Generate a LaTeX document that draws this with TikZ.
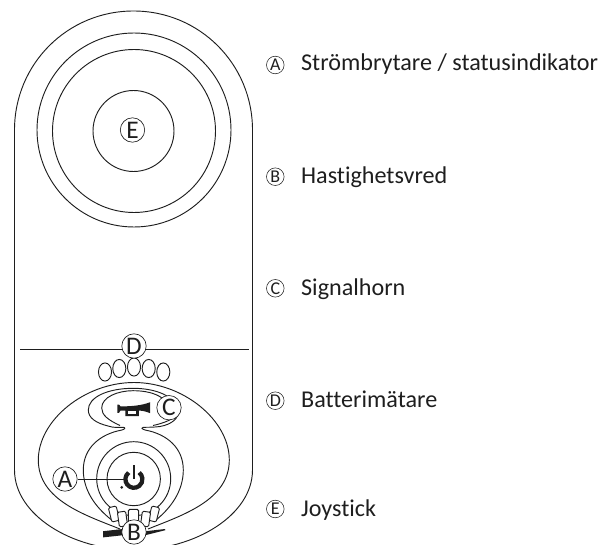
\documentclass[tikz,border=0pt]{standalone}
\usepackage{fontspec}
\setmainfont[Ligatures=NoCommon]{Carlito}
\usetikzlibrary{shapes.geometric}
\usetikzlibrary{positioning}
\definecolor{inkline}{HTML}{1E1E1E}
\begin{document}
\begin{tikzpicture}[x=0.75pt, y=-0.75pt, line width=0.7pt, draw=inkline, text=inkline,
	bigmark/.style={draw,shape=circle,fill=white,inner sep=0pt,minimum size=18.3pt,line width=0.5pt,font=\fontsize{19}{19}\selectfont},
	smallmark/.style={draw,shape=circle,inner sep=0pt,minimum size=13.2pt,line width=0.4pt,font=\fontsize{13.5}{13.5}\selectfont},
	entry/.style={anchor=base west,inner sep=0pt,font=\fontsize{18.1}{20}\selectfont},
	bulb/.style={draw,shape=ellipse,inner sep=0pt,minimum width=9.8pt,minimum height=13.6pt,fill=white},
	tooth/.style={draw,shape=rectangle,rounded corners=1pt,fill=white,inner sep=0pt}]
	\useasboundingbox (0,0) rectangle (600,545);
	% casing
	\draw (14.5,130) .. controls (14.5,64) and (67.5,11) .. (133.5,11)
		.. controls (199.5,11) and (252.5,64) .. (252.5,130) -- (252.5,470)
		.. controls (252.5,515) and (195,550) .. (133.5,550)
		.. controls (72,550) and (14.5,515) .. (14.5,470) -- cycle;
	% joystick
	\draw (134,130) circle (97);
	\draw (134,131) circle (81.5);
	\draw (133.5,131) circle (40.5);
	\node[bigmark] (E) at (132.5,130) {E};
	% battery gauge
	\draw (20,349.5) -- (249,349.5);
	\node[bulb] (0) at (105,372) {};
	\node[bulb] (1) at (119.3,368.5) {};
	\node[bulb] (2) at (134,367) {};
	\node[bulb] (3) at (148.7,368.5) {};
	\node[bulb] (4) at (163.3,372) {};
	\node[bigmark] (D) at (134,346) {D};
	% control panel
	\draw (134,382.5) .. controls (85,382.5) and (38.3,420) .. (38.3,460)
		.. controls (38.3,500) and (85,515) .. (120,529);
	\draw (134,382.5) .. controls (183,382.5) and (229.3,420) .. (229.3,460)
		.. controls (229.3,500) and (183,515) .. (148,529);
	\draw (111.7,520) .. controls (95,507) and (83.3,490) .. (83.3,470)
		.. controls (83.3,448) and (100,434) .. (122,430)
		.. controls (125.5,429) and (125.5,427.3) .. (123,427.3)
		.. controls (118,427.3) and (114,428) .. (108,426)
		.. controls (96,423) and (88.3,418) .. (88.3,410)
		.. controls (88.3,397) and (108,388.3) .. (133.3,388.3)
		.. controls (155,388.3) and (178,396) .. (178,413)
		.. controls (178,420) and (168,426.5) .. (155,427)
		.. controls (150,427.3) and (145,427.3) .. (143.3,427.3)
		.. controls (141,427.3) and (141.5,429) .. (145,430)
		.. controls (167,434) and (183.3,448) .. (183.3,470)
		.. controls (183.3,490) and (172,507) .. (156,520);
	\draw (120,425.5) .. controls (108,420) and (101.7,415) .. (101.7,408)
		.. controls (101.7,397) and (118,390.7) .. (133,390.7)
		.. controls (145,390.7) and (155,393) .. (162,398);
	\draw (153,425.5) .. controls (160,424) and (170,421) .. (176,416);
	% horn
	\fill[inkline] (117.3,404.6) -- (119,404.6) -- (120.5,406.4)
		.. controls (132,406.4) and (142,405.4) .. (150.2,402.2)
		-- (150.2,413.2) .. controls (145,411) and (141,410.6) .. (138.8,410.6)
		-- (138.8,416.2) -- (125.4,416.2) -- (125.4,410.6) -- (120.5,410.6) -- (119,412.8) -- (117.3,412.8) -- cycle;
	\fill[white] (128,411.2) rectangle (136.2,413.8);
	% power switch
	\draw (133.7,478.7) circle (37);
	\draw (133.7,479) circle (26.7);
	\draw[line width=3.2pt] (128.7,472.6) arc[start angle=232,end angle=-52,radius=8.5];
	\draw[line width=2.2pt] (134,465) -- (134,479);
	\fill[inkline] (121.7,487.3) circle (1.5);
	\coordinate (pwr) at (126,479);
	% speed knob
	\node[tooth,minimum width=6pt,minimum height=11pt,rotate=14] (k0) at (114,514) {};
	\node[tooth,minimum width=6pt,minimum height=11pt,rotate=-14] (k4) at (154,514) {};
	\node[tooth,minimum width=6.2pt,minimum height=11pt,rotate=8] (k1) at (122.5,519) {};
	\node[tooth,minimum width=6.2pt,minimum height=11pt,rotate=-8] (k3) at (145.5,519) {};
	\node[tooth,minimum width=7.6pt,minimum height=11.5pt] (k2) at (133.5,517) {};
	\fill[inkline] (103,531.2) -- (123,529) -- (125,535) -- (103,537.4) -- cycle;
	\fill[inkline] (143,531.5) -- (165,529) -- (165.3,530.2) -- (144,535.5) -- cycle;
	\node[bigmark] (A) at (65,479) {A};
	\node[bigmark] (B) at (134,532) {B};
	\node[bigmark] (C) at (169,407.7) {C};
	\draw (A) -- (pwr);
	% legend
	\node[smallmark] (la) at (275.3,65) {A};
	\node[smallmark] (lb) at (275.3,176.7) {B};
	\node[smallmark] (lc) at (275.3,288.3) {C};
	\node[smallmark] (ld) at (275.3,400.7) {D};
	\node[smallmark] (le) at (275.3,509) {E};
	\node[entry] (ta) at (300.7,71) {Strömbrytare / statusindikator};
	\node[entry] (tb) at (300.7,183.5) {Hastighetsvred};
	\node[entry] (tc) at (300.7,296) {Signalhorn};
	\node[entry] (td) at (300.7,407) {Batterimätare};
	\node[entry] (te) at (300.7,516.7) {Joystick};
\end{tikzpicture}
\end{document}
